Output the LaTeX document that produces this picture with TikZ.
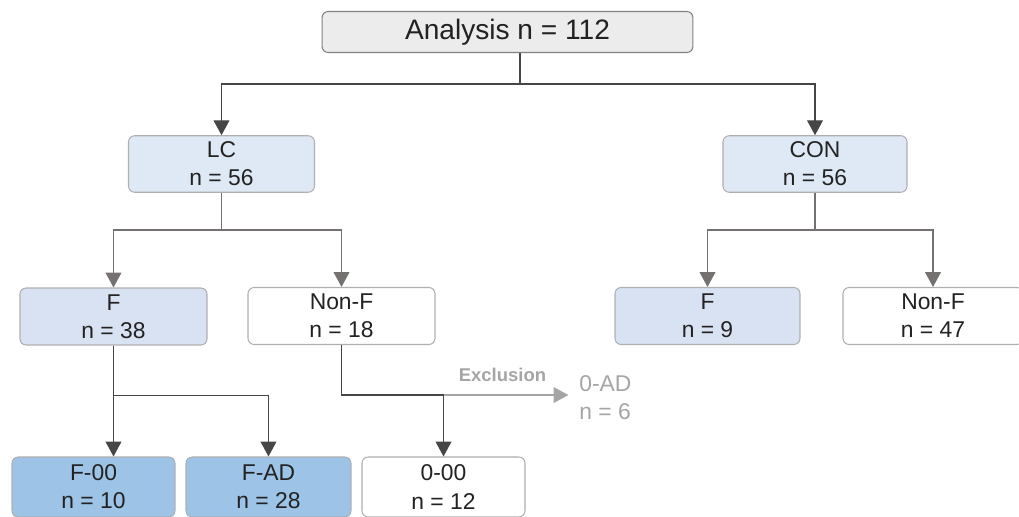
\documentclass[tikz,border=0pt]{standalone}
\usepackage{fontspec}
\setmainfont{Liberation Sans}
\usetikzlibrary{arrows.meta,positioning}
\definecolor{anagray}{RGB}{236,236,236}
\definecolor{anaedge}{RGB}{130,130,130}
\definecolor{boxedge}{RGB}{175,175,175}
\definecolor{lcblue}{RGB}{222,233,245}
\definecolor{fblue}{RGB}{217,226,243}
\definecolor{subblue}{RGB}{157,195,230}
\definecolor{darkline}{RGB}{70,70,70}
\definecolor{midline}{RGB}{118,113,113}
\definecolor{exclgray}{RGB}{165,165,165}
\definecolor{txt}{RGB}{34,34,34}

\tikzset{
  flowbox/.style={draw=boxedge, line width=0.6pt, rounded corners=3.5pt,
    align=center, text=txt, font=\fontsize{13}{16}\selectfont,
    minimum height=1.14cm, inner sep=0pt},
  darkconn/.style={draw=darkline, line width=0.8pt},
  midconn/.style={draw=midline, line width=0.8pt},
  exclconn/.style={draw=exclgray, line width=0.8pt},
  tip/.style={-{Triangle[width=9pt,length=8.5pt]}}
}

\begin{document}
\begin{tikzpicture}[x=0.02cm, y=-0.02cm]
  \useasboundingbox (0,0) rectangle (1019,517);
  \clip (0,0) rectangle (1019,517);

  % boxes
  \node[flowbox, fill=anagray, draw=anaedge, minimum width=7.42cm, minimum height=0.82cm,
    font=\fontsize{16}{19}\selectfont] (ana) at (507.5,32) {Analysis n = 112};
  \node[flowbox, fill=lcblue, minimum width=3.72cm, minimum height=1.13cm] (lc) at (221.5,164) {LC\\n = 56};
  \node[flowbox, fill=lcblue, minimum width=3.68cm, minimum height=1.13cm] (con) at (815,164) {CON\\n = 56};
  \node[flowbox, fill=fblue, minimum width=3.74cm] (fl) at (113.5,316.5) {F\\n = 38};
  \node[flowbox, fill=white, minimum width=3.74cm] (nfl) at (341.5,316) {Non-F\\n = 18};
  \node[flowbox, fill=fblue, minimum width=3.7cm] (fr) at (707.5,316) {F\\n = 9};
  \node[flowbox, fill=white, minimum width=3.6cm] (nfr) at (933,316) {Non-F\\n = 47};
  \node[flowbox, fill=subblue, minimum width=3.26cm, minimum height=1.2cm] (f00) at (93.5,487) {F-00\\n = 10};
  \node[flowbox, fill=subblue, minimum width=3.3cm, minimum height=1.2cm] (fad) at (268.5,487) {F-AD\\n = 28};
  \node[flowbox, fill=white, minimum width=3.26cm, minimum height=1.2cm] (n00) at (443.5,487) {0-00\\n = 12};
  \node[anchor=west, align=left, inner sep=0pt, text=exclgray,
    font=\fontsize{13}{16}\selectfont] (ad0) at (579,398) {0-AD\\n = 6};

  % split points
  \coordinate (anaj) at (520,84);
  \coordinate (lcj) at (221.5,230);
  \coordinate (conj) at (815,230);
  \path (fl.south) ++(0,50) coordinate (flj);
  \path (nfl.south) ++(0,50) coordinate (nflj);
  \coordinate (exj) at (n00.north |- nflj);

  % connectors
  \draw[darkconn] (ana.south -| anaj) -- (anaj);
  \draw[darkconn, tip] (anaj) -| (lc.north);
  \draw[darkconn, tip] (anaj) -| (con.north);
  \draw[midconn] (lc.south) -- (lcj);
  \draw[midconn, tip] (lcj) -| (fl.north);
  \draw[midconn, tip] (lcj) -| (nfl.north);
  \draw[midconn] (con.south) -- (conj);
  \draw[midconn, tip] (conj) -| (fr.north);
  \draw[midconn, tip] (conj) -| (nfr.north);
  \draw[darkconn, tip] (fl.south) -- (fl.south |- f00.north);
  \draw[darkconn, tip] (flj) -| (fad.north);
  \draw[exclconn, tip, shorten >=6pt] (exj) -- (ad0.west |- exj)
    node[midway, above=4pt, xshift=-5pt, text=exclgray, font=\fontsize{10.5}{12}\selectfont\bfseries] {Exclusion};
  \draw[darkconn, tip] (nfl.south) -- (nflj) -- (exj) -- (n00.north);
\end{tikzpicture}
\end{document}
